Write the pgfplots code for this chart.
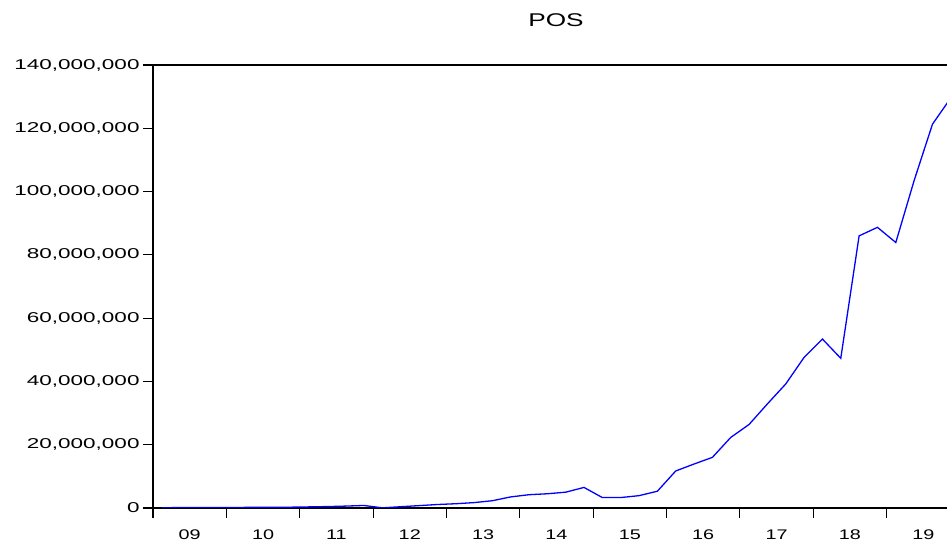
\documentclass[border=0pt]{standalone}
\usepackage{pgfplots}
\pgfplotsset{compat=1.18}
\usepackage{pgfplotstable}
\usepackage{fontspec}
\setmainfont{Liberation Sans}[FakeStretch=1.42]
\newfontfamily\yfont{Liberation Sans}[FakeStretch=1.58]
\pgfplotstableread{
x y
2009.125 100000
2009.375 120000
2009.625 140000
2009.875 160000
2010.125 180000
2010.375 200000
2010.625 230000
2010.875 260000
2011.125 350000
2011.375 450000
2011.625 600000
2011.875 800000
2012.125 50000
2012.375 400000
2012.625 750000
2012.875 1100000
2013.125 1350000
2013.375 1700000
2013.625 2300000
2013.875 3500000
2014.125 4200000
2014.375 4500000
2014.625 5000000
2014.875 6500000
2015.125 3300000
2015.375 3300000
2015.625 3900000
2015.875 5300000
2016.125 11700000
2016.375 13900000
2016.625 16000000
2016.875 22300000
2017.125 26400000
2017.375 32900000
2017.625 39200000
2017.875 47600000
2018.125 53400000
2018.375 47300000
2018.625 86000000
2018.875 88700000
2019.125 83900000
2019.375 103500000
2019.625 121300000
2019.875 129600000
}\datatable
\begin{document}
\begin{tikzpicture}
\begin{axis}[
  name=ax,
  scale only axis, width=794bp, height=443bp,
  xmin=2009, xmax=2019.823, ymin=0, ymax=140000000,
  axis x line*=box, axis y line*=left,
  axis line style={black, line width=1.2bp},
  tick align=outside, xtick pos=left, ytick pos=left,
  major tick length=10bp, minor tick length=5bp,
  every tick/.style={black, line width=1.1bp},
  xtick={2009,2010,...,2019}, minor x tick num=3,
  xticklabels={09,10,11,12,13,14,15,16,17,18,19},
  xticklabel style={font=\fontsize{14}{16}\selectfont, xshift=36.68bp, yshift=-8bp},
  ytick={0,20000000,40000000,60000000,80000000,100000000,120000000,140000000},
  scaled y ticks=false,
  yticklabel style={font=\yfont\fontsize{14.3}{16}\selectfont,
    /pgf/number format/fixed, /pgf/number format/1000 sep={,},
    /pgf/number format/assume math mode=true},
  title={POS},
  title style={font=\fontsize{18.5}{20}\selectfont, xshift=6bp, yshift=28.8bp},
]
\addplot[blue, line width=1.3bp, mark=none] table[x=x, y=y] {\datatable};
\end{axis}
\pgfresetboundingbox
\path[use as bounding box] (ax.south west) ++(-153bp,-33bp) rectangle ++(947bp,541bp);
\end{tikzpicture}
\end{document}
